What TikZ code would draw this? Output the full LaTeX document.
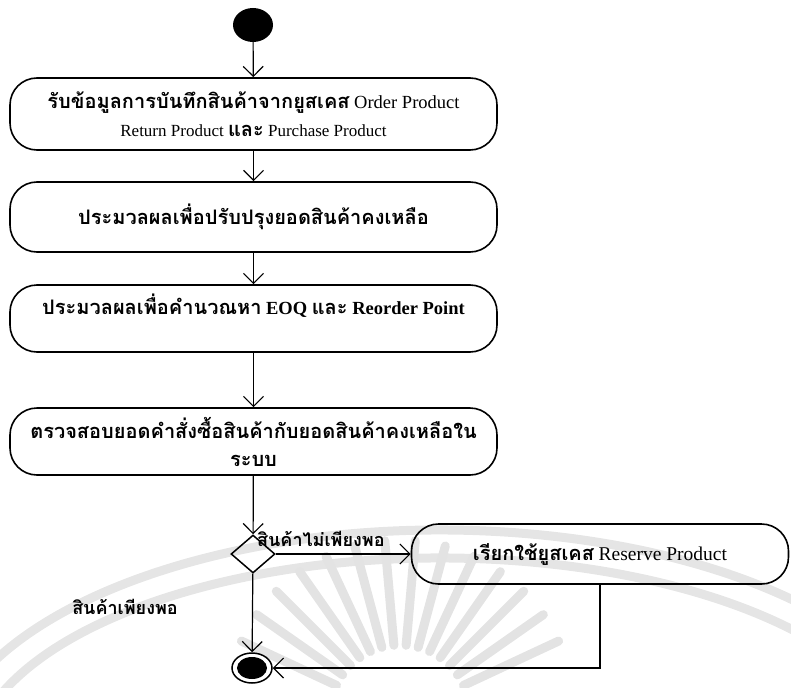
\documentclass[tikz,border=0pt]{standalone}
\usepackage{fontspec}
\setmainfont{Liberation Serif}
\newfontfamily\thai[Script=Thai]{Loma}
\usetikzlibrary{arrows.meta,shapes.geometric}
\newcommand{\tb}[1]{{\thai\bfseries\fontsize{20}{28}\selectfont #1}}
\newcommand{\tg}[1]{{\thai\bfseries\fontsize{18}{20}\selectfont #1}}
\begin{document}
\begin{tikzpicture}[x=1pt,y=-1pt,
  act/.style={draw, line width=1.6pt, rounded corners=27pt, minimum width=487pt,
              inner sep=0pt, align=center, font=\fontsize{18.5}{28}\selectfont},
  flow/.style={line width=1.2pt, -{Straight Barb[length=10pt,width=20pt]}},
  ray/.style={gray!22, line width=9pt, line cap=round},
  band/.style={gray!20, line width=9pt},
  guard/.style={inner sep=1pt}]
\useasboundingbox (0,0) rectangle (791,687);

% faint emblem behind the lower part
\begin{scope}
  \draw[band] (440,770) ++(-170:500 and 240) arc[start angle=-170, end angle=-10, x radius=500, y radius=240];
  \draw[band] (440,770) ++(-165:470 and 212) arc[start angle=-165, end angle=-15, x radius=470, y radius=212];
  \foreach \a in {-25,-35,...,-155}
    \draw[ray] (400,715) ++(\a:70) -- ++(\a:105);
\end{scope}

% initial and final states
\node[ellipse, fill=black, minimum width=40pt, minimum height=34pt, inner sep=0pt] (start) at (253,25) {};
\node[ellipse, draw, line width=1.5pt, minimum width=40pt, minimum height=30pt, inner sep=0pt] (stop) at (252,668) {};
\node[ellipse, fill=black, minimum width=30pt, minimum height=22pt, inner sep=0pt] (stopdot) at (252,668) {};

% activities
\node[act, minimum height=72pt] (b1) at (253.5,114)
  {\tb{รับข้อมูลการบันทึกสินค้าจากยูสเคส} Order Product\\{\fontsize{17}{28}\selectfont Return Product \tb{และ} Purchase Product}};
\node[act, minimum height=70pt] (b2) at (253.5,217)
  {\tb{ประมวลผลเพื่อปรับปรุงยอดสินค้าคงเหลือ}};
\node[act, minimum height=67pt] (b3) at (253.5,318.5)
  {\tb{ประมวลผลเพื่อคำนวณหา} \textbf{EOQ} \tb{และ} \textbf{Reorder Point}\\\mbox{}};
\node[act, minimum height=67pt] (b4) at (253.5,441.5)
  {\tb{ตรวจสอบยอดคำสั่งซื้อสินค้ากับยอดสินค้าคงเหลือใน}\\\tb{ระบบ}};
\node[diamond, draw, line width=1.5pt, minimum width=44pt, minimum height=38pt, inner sep=0pt] (dec) at (253,554) {};
\node[act, minimum width=377pt, minimum height=60pt] (b5) at (600,554)
  {\tb{เรียกใช้ยูสเคส} {\fontsize{19.5}{28}\selectfont Reserve Product}};

% guard labels
\node[guard, anchor=west] (g1) at (256,539) {\tg{สินค้าไม่เพียงพอ}};
\node[guard] (g2) at (125,607) {\tg{สินค้าเพียงพอ}};

% transitions
\draw[flow] (start) -- (b1);
\draw[flow] (b1) -- (b2);
\draw[flow] (b2) -- (b3);
\draw[flow] (b3) -- (b4);
\draw[flow] (b4) -- (dec);
\draw[flow] (dec) -- (b5);
\draw[flow] (dec) -- (stop);
\draw[flow] (b5.south) |- (stop);
\end{tikzpicture}
\end{document}
